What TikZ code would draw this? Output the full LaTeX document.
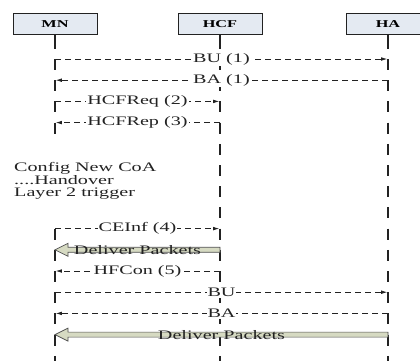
\documentclass[tikz,border=0pt]{standalone}
\usepackage{fontspec}
\setmainfont[FakeStretch=1.55]{Liberation Serif}
\usetikzlibrary{arrows.meta}
\definecolor{boxfill}{HTML}{E4EAF2}
\definecolor{pktfill}{HTML}{D6DAC2}
\definecolor{ink}{HTML}{222222}
\begin{document}
\begin{tikzpicture}[x=1pt,y=-1pt,every node/.style={inner sep=1pt}]
\tikzstyle{actor}=[draw=ink,line width=0.8pt,fill=boxfill,minimum width=84pt,minimum height=21pt,outer sep=0pt,font=\fontsize{10.5}{12}\selectfont\bfseries]
\tikzstyle{lifeline}=[draw=ink,line width=1.6pt,dash pattern=on 11pt off 10.2pt,dash phase=17.9pt]
\tikzstyle{msg}=[draw=ink,line width=0.7pt,dash pattern=on 6pt off 4pt,shorten >=0.8pt]
\tikzstyle{arrow}=[msg,-{Latex[length=6pt,width=3.6pt]}]
\tikzstyle{lbl}=[fill=white,font=\fontsize{13}{12.5}\selectfont,text=ink]
\tikzstyle{pkt}=[draw=ink!80,line width=0.7pt,fill=pktfill]
\clip (0,0) rectangle (420,360);

\node[actor](mn) at (55,24){MN};
\node[actor](hcf) at (220,24){HCF};
\node[actor](ha) at (388,24){HA};

\path[lifeline](mn.south)--(mn.south |- 0,134);
\path[lifeline,dash phase=11pt](mn.south |- 0,218.4)--(mn.south |- 0,365);
\path[lifeline](hcf.south)--(hcf.south |- 0,365);
\path[lifeline](ha.south)--(ha.south |- 0,365);
\path[lifeline,solid](mn.south)--++(0,4);
\path[lifeline,solid](hcf.south)--++(0,4);
\path[lifeline,solid](ha.south)--++(0,4);

\path[arrow](mn |- 0,59)--node[lbl]{BU (1)}(ha |- 0,59);
\path[arrow](ha |- 0,80.2)--node[lbl]{BA (1)}(mn |- 0,80.2);
\path[arrow](mn |- 0,101.4)--node[lbl]{HCFReq (2)}(hcf |- 0,101.4);
\path[arrow](hcf |- 0,122.6)--node[lbl]{HCFRep (3)}(mn |- 0,122.6);

\node[lbl,fill=none,anchor=west,align=left](cfg) at (13,181){Config New CoA\\....Handover\\Layer 2 trigger};

\path[arrow](mn |- 0,228.6)--node[lbl]{CEInf (4)}(hcf |- 0,228.6);
\path[pkt](hcf |- 0,247.3)--++(-152,0)--++(0,-4)--++(-13,6.5)--++(13,6.5)--++(0,-4)--(hcf |- 0,252.3)--cycle;
\node[lbl,fill=none](dp1) at (137.5,249.8){Deliver Packets};
\path[arrow](hcf |- 0,271)--node[lbl]{HFCon (5)}(mn |- 0,271);
\path[arrow](mn |- 0,292.2)--node[lbl]{BU}(ha |- 0,292.2);
\path[arrow](ha |- 0,313.4)--node[lbl]{BA}(mn |- 0,313.4);
\path[pkt](ha |- 0,332.1)--++(-320,0)--++(0,-4)--++(-13,6.5)--++(13,6.5)--++(0,-4)--(ha |- 0,337.1)--cycle;
\node[lbl,fill=none](dp2) at (221.5,334.6){Deliver Packets};
\end{tikzpicture}
\end{document}
